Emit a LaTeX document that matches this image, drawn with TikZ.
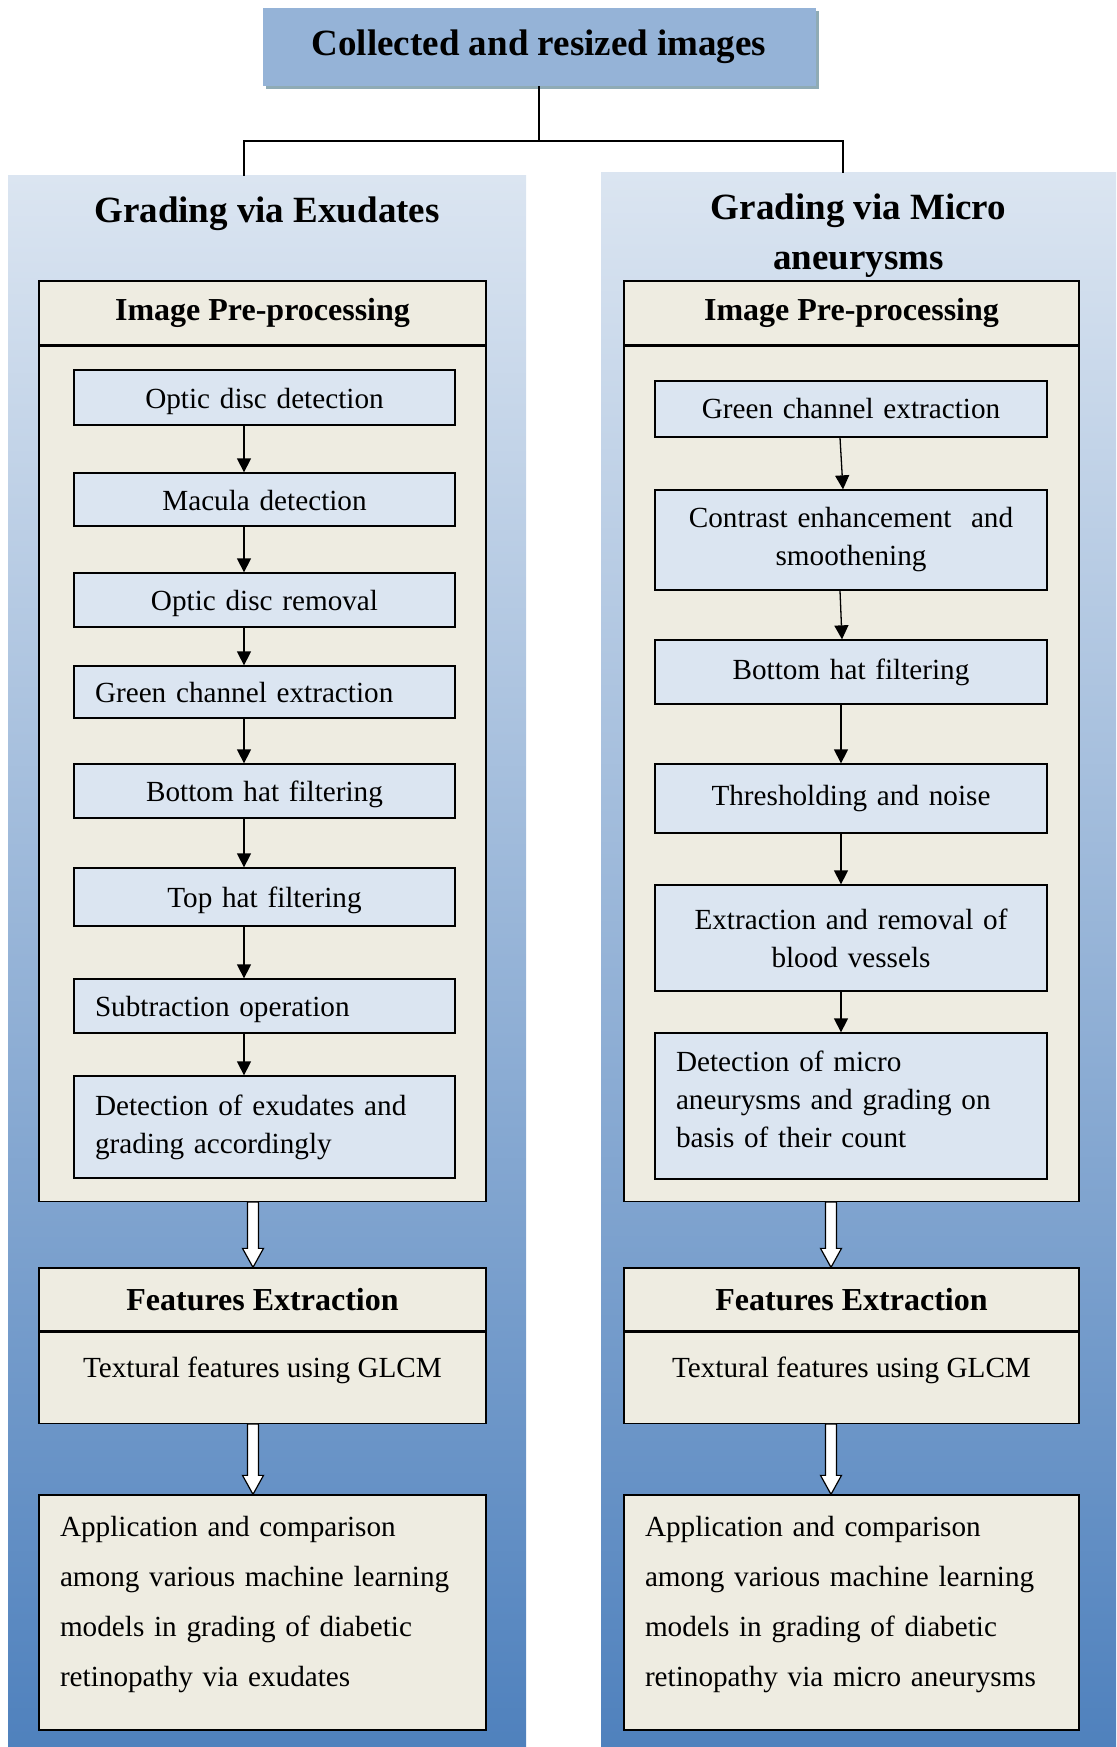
\documentclass[tikz,border=0pt]{standalone}
\usepackage{fontspec}
\setmainfont{Liberation Serif}
\usetikzlibrary{positioning,calc,shadows,arrows.meta}

\definecolor{topblue}{RGB}{149,179,215}
\definecolor{shadowgrey}{RGB}{143,171,181}
\definecolor{paleblue}{RGB}{219,229,241}
\definecolor{midblue}{RGB}{160,184,220}
\definecolor{deepblue}{RGB}{79,129,189}
\definecolor{tanfill}{RGB}{238,236,225}

% white block arrow between two points on one vertical
\newcommand{\hollowarrow}[2]{%
  \draw[line width=1.2pt, fill=white] let \p1=(#1), \p2=(#2) in
    (\x1-5.5pt,\y1) -- (\x1+5.5pt,\y1) -- (\x1+5.5pt,\y2-19pt) -- (\x1+10.5pt,\y2-19pt)
    -- (\x1,\y2) -- (\x1-10.5pt,\y2-19pt) -- (\x1-5.5pt,\y2-19pt) -- cycle;}

\begin{document}
\begin{tikzpicture}[x=1pt,y=1pt,yscale=-1,
  panel/.style={draw=none, top color=paleblue, middle color=midblue, bottom color=deepblue, inner sep=0pt},
  paneltitle/.style={font=\fontsize{37}{50}\selectfont\bfseries, align=center},
  headbox/.style={draw, line width=1.3pt, fill=tanfill, minimum height=64pt, inner sep=0pt, font=\fontsize{32}{38}\selectfont\bfseries},
  bodybox/.style={draw, line width=1.3pt, fill=tanfill, inner sep=0pt},
  stepbox/.style={draw, line width=1.3pt, fill=paleblue, inner xsep=21pt, inner ysep=0pt, align=center, font=\fontsize{29.2}{38}\selectfont},
  exstep/.style={stepbox, text width=339pt},
  mastep/.style={stepbox, text width=350pt},
  oneline/.style={text height=24pt, text depth=2.2pt},
  appbox/.style={draw, line width=1.3pt, fill=tanfill, inner xsep=21pt, inner ysep=0pt, align=left, minimum height=235pt, font=\fontsize{29.2}{50}\selectfont},
  flow/.style={line width=1.3pt, -{Triangle[width=14pt,length=14pt]}},
  link/.style={line width=1.8pt},
]
\useasboundingbox (0,0) rectangle (1116,1747);

% backgrounds of the two branches
\node[panel, minimum width=518pt, minimum height=1571pt] (expanel) at (267,961.5) {};
\node[panel, minimum width=515pt, minimum height=1574pt] (mapanel) at (858.5,960) {};

\node[fill=topblue, minimum width=553pt, minimum height=78pt, inner sep=0pt,
      font=\fontsize{37}{44}\selectfont\bfseries,
      drop shadow={shadow xshift=3.5pt, shadow yshift=-3.5pt, fill=shadowgrey, opacity=1}]
      (topbox) at (539,47) {Collected and resized images};

\coordinate (split) at ($(topbox.south)+(0,55)$);
\draw[link] (topbox.south) -- (split);
\draw[link] (split) -| ([xshift=-23pt]expanel.north);
\draw[link] (split) -| ([xshift=-15.5pt]mapanel.north);

\node[paneltitle] (extitle) at (267,213.5) {Grading via Exudates};
\node[paneltitle] (matitle) at (858.5,235.5) {Grading via Micro\\aneurysms};

% exudates branch
\node[headbox, minimum width=447pt] (exprehead) at (262.5,313) {Image Pre-processing};
\node[bodybox, minimum width=447pt, minimum height=855pt, below=0pt of exprehead] (exprebody) {};

\node[exstep, oneline, minimum height=55pt] (ex1) at (264.5,397.5) {Optic disc detection};
\node[exstep, oneline, minimum height=53pt] (ex2) at (264.5,499.5) {Macula detection};
\node[exstep, oneline, minimum height=54pt] (ex3) at (264.5,600) {Optic disc removal};
\node[exstep, oneline, minimum height=52pt, align=left] (ex4) at (264.5,692) {Green channel extraction};
\node[exstep, oneline, minimum height=54pt] (ex5) at (264.5,791) {Bottom hat filtering};
\node[exstep, oneline, minimum height=58pt] (ex6) at (264.5,897) {Top hat filtering};
\node[exstep, oneline, minimum height=54pt, align=left] (ex7) at (264.5,1006) {Subtraction operation};
\node[exstep, minimum height=102pt, align=left] (ex8) at (264.5,1127) {Detection of exudates and\\grading accordingly};

\draw[flow] ([xshift=-20.5pt]ex1.south) -- ([xshift=-20.5pt]ex2.north);
\draw[flow] ([xshift=-20.5pt]ex2.south) -- ([xshift=-20.5pt]ex3.north);
\draw[flow] ([xshift=-20.5pt]ex3.south) -- ([xshift=-20.5pt]ex4.north);
\draw[flow] ([xshift=-20.5pt]ex4.south) -- ([xshift=-20.5pt]ex5.north);
\draw[flow] ([xshift=-20.5pt]ex5.south) -- ([xshift=-20.5pt]ex6.north);
\draw[flow] ([xshift=-20.5pt]ex6.south) -- ([xshift=-20.5pt]ex7.north);
\draw[flow] ([xshift=-20.5pt]ex7.south) -- ([xshift=-20.5pt]ex8.north);

\node[headbox, minimum width=447pt, minimum height=63pt] (exfeathead) at (262.5,1299.5) {Features Extraction};
\node[bodybox, minimum width=447pt, minimum height=91pt, below=0pt of exfeathead,
      font=\fontsize{29.2}{38}\selectfont] (exfeatbody) {Textural features using GLCM\rule[-22pt]{0pt}{22pt}};

\node[appbox, text width=405pt] (exapp) at (262.5,1612.5) {Application and comparison\\among various machine learning\\models in grading of diabetic\\retinopathy via exudates\rule[-23pt]{0pt}{23pt}};

\hollowarrow{[xshift=-9.5pt]exprebody.south}{[xshift=-9.5pt]exfeathead.north}
\hollowarrow{[xshift=-9.5pt]exfeatbody.south}{[xshift=-9.5pt]exapp.north}

% micro aneurysms branch
\node[headbox, minimum width=455pt] (maprehead) at (851.5,313) {Image Pre-processing};
\node[bodybox, minimum width=455pt, minimum height=855pt, below=0pt of maprehead] (maprebody) {};

\node[mastep, minimum height=56pt] (ma1) at (851,409) {Green channel extraction};
\node[mastep, minimum height=100pt] (ma2) at (851,540) {Contrast enhancement~ and\\smoothening};
\node[mastep, minimum height=64pt] (ma3) at (851,672) {Bottom hat filtering};
\node[mastep, minimum height=69pt] (ma4) at (851,798.5) {Thresholding and noise};
\node[mastep, minimum height=106pt] (ma5) at (851,938) {Extraction and removal of\\blood vessels};
\node[mastep, minimum height=146pt, align=left] (ma6) at (851,1106) {Detection of micro\\aneurysms and grading on\\basis of their count\rule[-14pt]{0pt}{14pt}};

\draw[flow] ([xshift=-11pt]ma1.south) -- ([xshift=-8pt]ma2.north);
\draw[flow] ([xshift=-11pt]ma2.south) -- ([xshift=-9pt]ma3.north);
\draw[flow] ([xshift=-10pt]ma3.south) -- ([xshift=-10pt]ma4.north);
\draw[flow] ([xshift=-10pt]ma4.south) -- ([xshift=-10pt]ma5.north);
\draw[flow] ([xshift=-10pt]ma5.south) -- ([xshift=-10pt]ma6.north);

\node[headbox, minimum width=455pt, minimum height=63pt] (mafeathead) at (851.5,1299.5) {Features Extraction};
\node[bodybox, minimum width=455pt, minimum height=91pt, below=0pt of mafeathead,
      font=\fontsize{29.2}{38}\selectfont] (mafeatbody) {Textural features using GLCM\rule[-22pt]{0pt}{22pt}};

\node[appbox, text width=413pt] (maapp) at (851.5,1612.5) {Application and comparison\\among various machine learning\\models in grading of diabetic\\retinopathy via micro aneurysms\rule[-23pt]{0pt}{23pt}};

\hollowarrow{[xshift=-20.5pt]maprebody.south}{[xshift=-20.5pt]mafeathead.north}
\hollowarrow{[xshift=-20.5pt]mafeatbody.south}{[xshift=-20.5pt]maapp.north}
\end{tikzpicture}
\end{document}
